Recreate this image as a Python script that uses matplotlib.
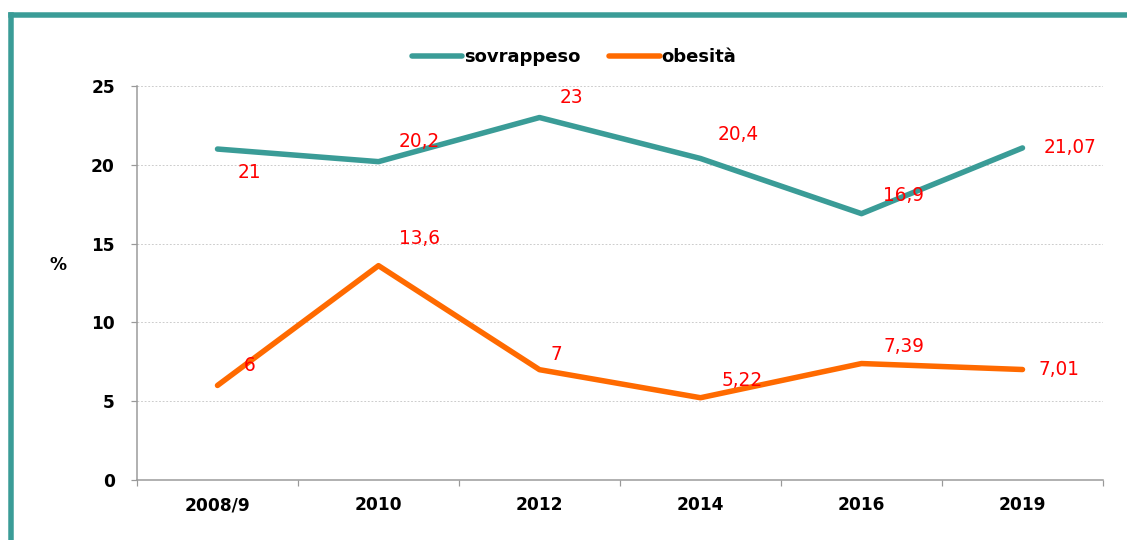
import matplotlib
matplotlib.use("Agg")
import matplotlib.pyplot as plt
from matplotlib.lines import Line2D
import numpy as np

anni = ["2008/9", "2010", "2012", "2014", "2016", "2019"]
sovrappeso = [21, 20.2, 23, 20.4, 16.9, 21.07]
obesita = [6, 13.6, 7, 5.22, 7.39, 7.01]
etichette_sovr = ["21", "20,2", "23", "20,4", "16,9", "21,07"]
etichette_obes = ["6", "13,6", "7", "5,22", "7,39", "7,01"]

# spostamenti delle etichette in punti (dpi=72, quindi punti = pixel)
off_sovr = [(32, -23), (41, 20), (32, 20), (38, 24), (42, 18), (48, 0)]
off_obes = [(32, 20), (41, 27), (17, 15), (42, 17), (42, 17), (36, 0)]

teal = "#3A9C97"
arancio = "#FF6A00"
rosso = "#FF0000"
grigio = "#999999"

fig = plt.figure(figsize=(1127 / 72, 540 / 72), dpi=72)
ax = fig.add_axes([137 / 1127, 60 / 540, (1103 - 137) / 1127, (480 - 86) / 540])

x = np.arange(len(anni))
ax.plot(x, sovrappeso, color=teal, lw=5.5, solid_capstyle="round", label="sovrappeso")
ax.plot(x, obesita, color=arancio, lw=5.5, solid_capstyle="round", label="obesità")

for i in range(len(anni)):
    ax.annotate(etichette_sovr[i], (x[i], sovrappeso[i]), xytext=off_sovr[i], textcoords="offset points",
                ha="center", va="center", color=rosso, fontsize=18.5)
    ax.annotate(etichette_obes[i], (x[i], obesita[i]), xytext=off_obes[i], textcoords="offset points",
                ha="center", va="center", color=rosso, fontsize=18.5)

ax.set_xlim(-0.5, len(anni) - 0.5)
ax.set_ylim(0, 25)
ax.set_yticks([0, 5, 10, 15, 20, 25])
ax.set_xticks(x)
ax.set_xticklabels(anni)
ax.set_xticks(np.arange(-0.5, len(anni)), minor=True)
ax.tick_params(axis="x", which="major", length=0, pad=16, labelsize=17)
ax.tick_params(axis="x", which="minor", length=6, color=grigio, width=1.2)
ax.tick_params(axis="y", length=6, color=grigio, width=1.2, pad=16, labelsize=17)
for lab in ax.get_xticklabels() + ax.get_yticklabels():
    lab.set_fontweight("bold")

ax.grid(axis="y", linestyle=(0, (2, 2)), color="#c8c8c8", lw=0.9)
ax.set_axisbelow(True)
for s in ["top", "right"]:
    ax.spines[s].set_visible(False)
for s in ["left", "bottom"]:
    ax.spines[s].set_color(grigio)
    ax.spines[s].set_linewidth(1.5)

fig.text(58 / 1127, 1 - 265 / 540, "%", fontsize=17, fontweight="bold", ha="center", va="center")

leg = fig.legend(loc="center", bbox_to_anchor=(574 / 1127, 1 - 57 / 540), ncol=2, frameon=False,
                 handlelength=2.8, handletextpad=0.1, columnspacing=1.6,
                 prop={"weight": "bold", "size": 18})

# cornice verde
fig.add_artist(Line2D([10.5 / 1127, 1], [1 - 15 / 540, 1 - 15 / 540], color=teal, lw=5.5,
                      transform=fig.transFigure, solid_capstyle="projecting"))
fig.add_artist(Line2D([10.5 / 1127, 10.5 / 1127], [0, 1 - 15 / 540], color=teal, lw=5.5,
                      transform=fig.transFigure, solid_capstyle="projecting"))

fig.savefig("out.png", dpi=72)
